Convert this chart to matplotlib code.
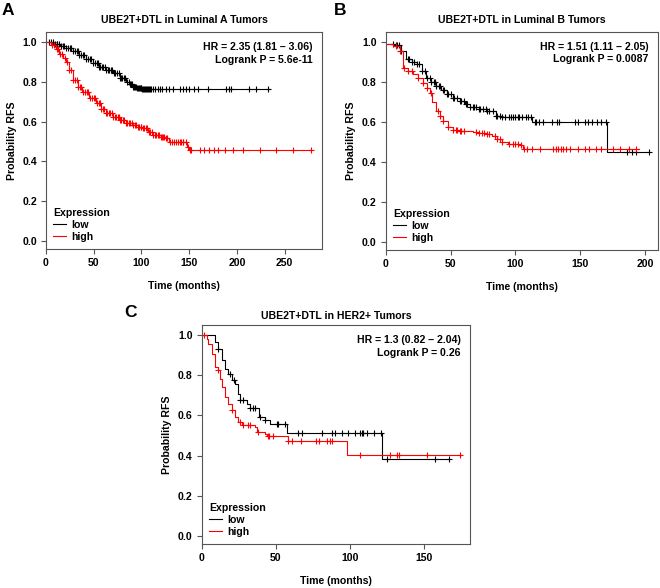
import numpy as np
import matplotlib
matplotlib.use("Agg")
import matplotlib.pyplot as plt

plt.rcParams['font.family'] = ['Liberation Sans', 'DejaVu Sans']
plt.rcParams['font.weight'] = 'bold'

# ---------------- data ----------------
# Panel A: Luminal A
a_low_t = [0, 8, 15, 21, 28, 35, 42, 49, 56, 63, 70, 77, 84, 88, 91, 95, 101, 235]
a_low_s = [1.0, 0.99, 0.98, 0.97, 0.955, 0.935, 0.915, 0.895, 0.875, 0.86, 0.842, 0.82, 0.80, 0.787, 0.775, 0.768, 0.762, 0.762]
a_low_c = [3, 5, 7, 9, 11, 12, 14, 16, 18, 19, 21, 23, 25, 26, 28, 30, 32, 33, 35, 37, 39, 40, 42, 44, 46, 47, 49,
           51, 53, 54, 56, 57, 59, 60, 62, 63, 65, 66, 68, 69, 71, 72, 74, 76, 77, 79, 80, 82, 83, 85, 87, 88,
           89, 90, 91, 92, 93, 94, 95, 96, 97, 98, 99, 100, 101, 102, 103, 104, 105, 106, 107, 108, 109, 110,
           112, 114, 117, 119, 122, 126, 129, 133, 140, 143, 147, 150, 155, 159, 170, 189, 192, 194, 213, 220, 233]
a_high_t = [0, 5, 10, 14, 18, 21, 24, 28, 33, 38, 45, 52, 58, 63, 70, 77, 84, 91, 96, 101, 107, 112, 120, 126, 129,
            146, 148, 150, 278]
a_high_s = [1.0, 0.985, 0.965, 0.942, 0.92, 0.90, 0.86, 0.808, 0.775, 0.75, 0.72, 0.692, 0.665, 0.642, 0.622, 0.608,
            0.595, 0.583, 0.575, 0.567, 0.55, 0.533, 0.522, 0.517, 0.50, 0.50, 0.475, 0.458, 0.458]
a_high_c = [6, 8, 11, 13, 15, 17, 20, 22, 24, 26, 28, 30, 32, 34, 36, 37, 39, 41, 43, 44, 46, 48, 50, 51, 53, 55,
            57, 58, 60, 61, 63, 64, 66, 67, 69, 70, 72, 73, 75, 76, 78, 79, 81, 82, 84, 85, 87, 88, 90, 91, 93,
            94, 96, 97, 99, 100, 102, 103, 105, 106, 108, 109, 111, 112, 114, 115, 117, 118, 120, 121, 123, 124,
            126, 127, 130, 132, 134, 136, 138, 140, 141, 143, 144, 147, 149, 151, 152, 161, 166, 171, 176, 180,
            187, 196, 206, 224, 241, 259, 278]

# Panel B: Luminal B
b_low_t = [0, 8, 12, 16, 20, 24, 28, 31, 35, 39, 43, 47, 52, 57, 61, 65, 72, 78, 85, 90, 96, 113, 171, 203]
b_low_s = [0.99, 0.985, 0.954, 0.913, 0.90, 0.888, 0.855, 0.821, 0.80, 0.78, 0.76, 0.739, 0.722, 0.706, 0.69, 0.673,
           0.665, 0.656, 0.631, 0.627, 0.623, 0.598, 0.45, 0.45]
b_low_c = [6, 8, 9, 10, 12, 17, 18, 20, 22, 24, 26, 28, 30, 32, 34, 35, 37, 38, 39, 41, 42, 44, 45, 47, 48, 50,
           52, 53, 55, 57, 58, 60, 62, 63, 65, 67, 68, 70, 72, 73, 75, 77, 78, 80, 83, 85, 86, 88, 90, 92, 95,
           97, 98, 100, 102, 103, 105, 108, 110, 112, 115, 116, 118, 121, 128, 132, 134, 146, 148, 154, 156,
           159, 163, 166, 170, 186, 190, 193, 203]
b_high_t = [0, 6, 11, 13.5, 17, 21, 25, 29, 32, 34, 36, 39, 42, 44, 48, 52, 57, 67, 72, 78, 82, 86, 90, 94, 104,
            106, 195]
b_high_s = [0.99, 0.979, 0.954, 0.871, 0.855, 0.838, 0.818, 0.797, 0.77, 0.747, 0.70, 0.656, 0.63, 0.607, 0.573,
            0.562, 0.557, 0.549, 0.545, 0.541, 0.53, 0.516, 0.50, 0.491, 0.483, 0.466, 0.466]
b_high_c = [8, 11, 14, 17, 20, 25, 29, 32, 35, 40, 42, 44, 48, 52, 54, 55, 57, 58, 60, 70, 72, 74, 76, 78, 80, 84,
            86, 88, 90, 95, 98, 100, 102, 104, 107, 109, 113, 119, 129, 131, 133, 135, 137, 139, 142, 148, 154,
            157, 162, 166, 175, 181, 188, 193]

# Panel C: HER2+
c_low_t = [0, 8, 9, 11.2, 13.5, 15.7, 18, 20.3, 22.5, 24.7, 25.9, 30.4, 32.6, 38.5, 42.8, 46, 57.5, 121.5, 167]
c_low_s = [1.0, 1.0, 0.967, 0.933, 0.875, 0.833, 0.808, 0.775, 0.758, 0.708, 0.675, 0.658, 0.637, 0.592, 0.575,
           0.558, 0.513, 0.383, 0.383]
c_low_c = [11.2, 19.4, 21.7, 26, 28, 32.6, 34.8, 36, 39.3, 42.8, 50.7, 51.8, 56.3, 64.7, 68, 81, 88, 90, 94.6, 99,
           103.6, 107, 108, 109, 111.5, 116, 121, 125, 157.6, 166.6]
c_high_t = [0, 3.4, 4.5, 6.8, 9, 11.2, 12.4, 13.5, 15.7, 18, 20.3, 22.5, 24.7, 27, 36, 37, 42.8, 44, 58.5, 98, 175]
c_high_s = [1.0, 0.983, 0.958, 0.908, 0.842, 0.825, 0.783, 0.742, 0.692, 0.658, 0.625, 0.592, 0.567, 0.55, 0.542,
            0.517, 0.508, 0.497, 0.475, 0.405, 0.405]
c_high_c = [1.5, 11.2, 20.3, 25.9, 28, 31.5, 32.6, 38.2, 44.6, 45.7, 48, 58.5, 61, 66.7, 76.8, 79, 84.5, 86.7, 87.8,
            107, 127, 131.7, 132.8, 152, 174.5]

titles = ["UBE2T+DTL in Luminal A Tumors", "UBE2T+DTL in Luminal B Tumors", "UBE2T+DTL in HER2+ Tumors"]
hr_texts = ["HR = 2.35 (1.81 \u2013 3.06)\nLogrank P = 5.6e-11",
            "HR = 1.51 (1.11 \u2013 2.05)\nLogrank P = 0.0087",
            "HR = 1.3 (0.82 \u2013 2.04)\nLogrank P = 0.26"]
panel_letters = ["A", "B", "C"]
x_ticks = [[0, 50, 100, 150, 200, 250], [0, 50, 100, 150, 200], [0, 50, 100, 150]]
x_max = [289, 210, 181]
y_ticks = [0.0, 0.2, 0.4, 0.6, 0.8, 1.0]
legend_title = "Expression"
legend_labels = ["low", "high"]

# ---------------- drawing ----------------
fig = plt.figure(figsize=(6.6, 5.88), dpi=100)
positions = [[0.0697, 0.5765, 0.418, 0.369],
             [0.5844, 0.5748, 0.4126, 0.371],
             [0.3056, 0.0748, 0.4065, 0.3724]]
letter_pos = [(0.003, 0.995), (0.506, 0.995), (0.188, 0.482)]
title_pads = [6.5, 6.5, 4.5]

panels = [
    (a_low_t, a_low_s, a_low_c, a_high_t, a_high_s, a_high_c),
    (b_low_t, b_low_s, b_low_c, b_high_t, b_high_s, b_high_c),
    (c_low_t, c_low_s, c_low_c, c_high_t, c_high_s, c_high_c),
]

def surv_at(times, surv, t):
    times = np.asarray(times, float)
    surv = np.asarray(surv, float)
    idx = np.searchsorted(times, np.asarray(t, float), side='right') - 1
    idx = np.clip(idx, 0, len(surv) - 1)
    return surv[idx]

FS = 7.6
edge = '#555555'
for i, (lt, ls, lc, ht, hs, hc) in enumerate(panels):
    ax = fig.add_axes(positions[i])
    for t, s, c, col, lab in [(lt, ls, lc, 'black', legend_labels[0]), (ht, hs, hc, '#ff0000', legend_labels[1])]:
        ax.plot(t, s, drawstyle='steps-post', color=col, lw=0.8, label=lab)
        ax.plot(c, surv_at(t, s, c), linestyle='none', marker='+', color=col, ms=4.5, mew=0.8)
    ax.set_xlim(0, x_max[i])
    ax.set_ylim(-0.04, 1.05)
    ax.set_xticks(x_ticks[i])
    ax.set_yticks(y_ticks)
    ax.set_yticklabels([f"{v:.1f}" for v in y_ticks])
    ax.tick_params(direction='out', length=3.5, width=0.8, color=edge, labelsize=FS, pad=3)
    for sp in ax.spines.values():
        sp.set_color(edge)
        sp.set_linewidth(0.8)
    ax.set_xlabel("Time (months)", fontsize=FS, fontweight='bold', labelpad=9.5)
    ax.set_ylabel("Probability RFS", fontsize=FS, fontweight='bold', labelpad=4)
    ax.set_title(titles[i], fontsize=FS, fontweight='bold', pad=title_pads[i])
    ax.text(0.965, 0.955, hr_texts[i], transform=ax.transAxes, ha='right', va='top',
            fontsize=FS, fontweight='bold', linespacing=1.35)
    leg = ax.legend(title=legend_title, loc='lower left', frameon=False, fontsize=FS,
                    title_fontsize=FS, handlelength=1.2, handletextpad=0.5, labelspacing=0.15,
                    borderaxespad=0.3, bbox_to_anchor=(0.0, 0.0))
    leg._legend_box.align = "left"
    leg.get_title().set_fontweight('bold')
    fig.text(letter_pos[i][0], letter_pos[i][1], panel_letters[i], fontsize=12.5, fontweight='bold',
             ha='left', va='top')

fig.savefig("out.png", dpi=100)
